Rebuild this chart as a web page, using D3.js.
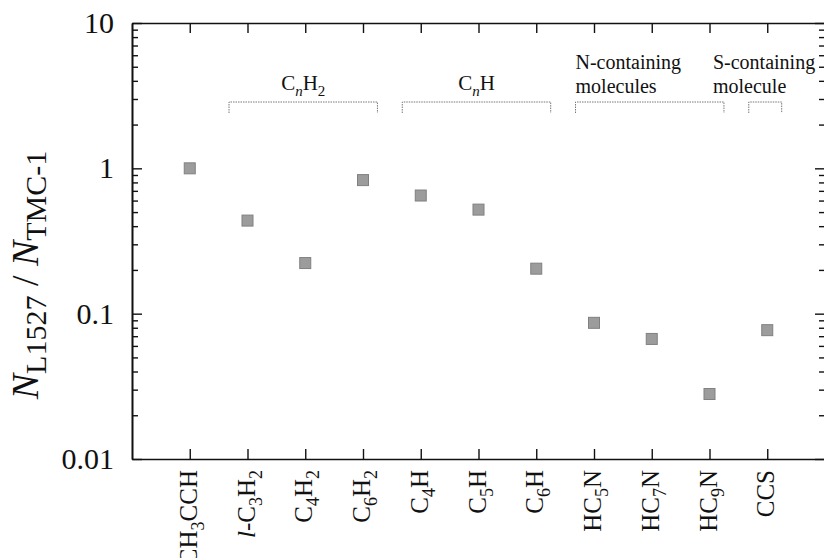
<!DOCTYPE html>
<html>
<head>
<meta charset="utf-8">
<script src="https://cdn.jsdelivr.net/npm/d3@7"></script>
<style>
  body { margin: 0; background: #fff; }
  svg { display: block; }
  svg text { font-family: "Liberation Serif", "Times New Roman", Times, Tinos, "Noto Serif", "DejaVu Serif", "Nimbus Roman", FreeSerif, serif; }
</style>
</head>
<body>
<script>
// molecules and column density ratio L1527 / TMC-1
const categories = ["CH3CCH", "l-C3H2", "C4H2", "C6H2", "C4H", "C5H", "C6H", "HC5N", "HC7N", "HC9N", "CCS"];
const ratios = [1.0, 0.437, 0.223, 0.83, 0.65, 0.52, 0.204, 0.0865, 0.067, 0.028, 0.077];

// groups shown with brackets above the points
const groupLabels = [["CnH2"], ["CnH"], ["N-containing", "molecules"], ["S-containing", "molecule"]];
const groupFirst = ["l-C3H2", "C4H", "HC5N", "CCS"];
const groupLast = ["C6H2", "C6H", "HC9N", "CCS"];

const yTicks = [0.01, 0.1, 1, 10];
const yTickLabels = ["0.01", "0.1", "1", "10"];

const width = 824, height = 558;
const pL = 132, pR = 825, pT = 23, pB = 459;

const svg = d3.select("body").append("svg")
  .attr("width", width).attr("height", height);

const x = d3.scalePoint().domain(categories).range([pL, pR]).padding(1);
const y = d3.scaleLog().domain([0.01, 10]).range([pB, pT]);

const minor = y.ticks().filter(v => !yTicks.some(t => Math.abs(t - v) < 1e-9));

// turn a formula string into pieces: digits -> subscript, leading l- -> italic
function parts(s) {
  const out = [];
  let rest = s;
  if (rest.startsWith("l-")) { out.push({t: "l", it: true}); out.push({t: "-"}); rest = rest.slice(2); }
  rest.replace(/(\d+|[^\d]+)/g, m => { out.push({t: m, sub: /\d/.test(m)}); return m; });
  return out;
}
function rich(text, ps, size, subSize, shift) {
  const sh = shift == null ? size * 0.28 : shift;
  let shifted = false;
  ps.forEach(p => {
    const ts = text.append("tspan").text(p.t);
    if (p.it) ts.attr("font-style", "italic");
    if (p.sub) {
      ts.attr("font-size", subSize).attr("dy", shifted ? 0 : sh);
      shifted = true;
    } else {
      ts.attr("font-size", size).attr("dy", shifted ? -sh : 0);
      shifted = false;
    }
  });
}

function styleAxis(g) {
  g.select(".domain").attr("stroke", "#111").attr("stroke-width", 1.6);
  g.selectAll(".tick line").attr("stroke", "#111").attr("stroke-width", 1.4);
}

// left axis
const gL = svg.append("g").attr("transform", `translate(${pL},0)`)
  .call(d3.axisLeft(y).tickValues(yTicks).tickSize(-10).tickPadding(18)
    .tickFormat((d, i) => yTickLabels[i]).tickSizeOuter(0));
gL.selectAll(".tick text").attr("font-size", 30).attr("fill", "#111");
styleAxis(gL);
const gLm = svg.append("g").attr("transform", `translate(${pL},0)`)
  .call(d3.axisLeft(y).tickValues(minor).tickSize(-6).tickFormat("").tickSizeOuter(0));
styleAxis(gLm);

// right axis
const gR = svg.append("g").attr("transform", `translate(${pR},0)`)
  .call(d3.axisRight(y).tickValues(yTicks).tickSize(-10).tickFormat("").tickSizeOuter(0));
styleAxis(gR);
const gRm = svg.append("g").attr("transform", `translate(${pR},0)`)
  .call(d3.axisRight(y).tickValues(minor).tickSize(-6).tickFormat("").tickSizeOuter(0));
styleAxis(gRm);

// top and bottom axes
const gT = svg.append("g").attr("transform", `translate(0,${pT})`)
  .call(d3.axisTop(x).tickSize(-10).tickFormat("").tickSizeOuter(0));
styleAxis(gT);
const gB = svg.append("g").attr("transform", `translate(0,${pB})`)
  .call(d3.axisBottom(x).tickSize(-10).tickFormat("").tickSizeOuter(0));
styleAxis(gB);

// category labels (rotated)
categories.forEach(c => {
  const t = svg.append("text")
    .attr("transform", `translate(${x(c) + 7},${pB + 11}) rotate(-90)`)
    .attr("text-anchor", "end").attr("fill", "#111");
  rich(t, parts(c), 25, 18);
});

// y title
const yt = svg.append("text")
  .attr("transform", `translate(38,275) rotate(-90)`)
  .attr("text-anchor", "middle").attr("fill", "#111");
rich(yt, [{t: "N", it: true}, {t: "L1527", sub: true}, {t: " / "}, {t: "N", it: true}, {t: "TMC-1", sub: true}], 38, 30, 8);

// group brackets
const step = x.step();
const by = 102;
groupFirst.forEach((f, i) => {
  const x0 = x(f) - step * 0.32, x1 = x(groupLast[i]) + step * 0.25;
  svg.append("path")
    .attr("d", `M${x0},${by + 11}V${by}H${x1}V${by + 11}`)
    .attr("fill", "none").attr("stroke", "#777").attr("stroke-width", 1)
    .attr("stroke-dasharray", "1.5,1");
  const lab = groupLabels[i];
  if (lab.length === 1) {
    const t = svg.append("text").attr("x", (x0 + x1) / 2).attr("y", 90)
      .attr("text-anchor", "middle").attr("fill", "#111");
    const ps = lab[0] === "CnH2"
      ? [{t: "C"}, {t: "n", sub: true, it: true}, {t: "H"}, {t: "2", sub: true}]
      : [{t: "C"}, {t: "n", sub: true, it: true}, {t: "H"}];
    rich(t, ps, 21, 15);
  } else {
    const tx = i === 3 ? x(f) - step * 0.94 : x0;
    lab.forEach((l, j) => {
      svg.append("text").attr("x", tx).attr("y", 69 + j * 24)
        .attr("font-size", 20).attr("fill", "#111").text(l);
    });
  }
});

// points
const sz = 11;
svg.append("g").selectAll("rect").data(categories).join("rect")
  .attr("x", d => x(d) - sz / 2)
  .attr("y", (d, i) => y(ratios[i]) - sz / 2)
  .attr("width", sz).attr("height", sz)
  .attr("fill", "#9c9c9c").attr("stroke", "#808080").attr("stroke-width", 1);
</script>
</body>
</html>
